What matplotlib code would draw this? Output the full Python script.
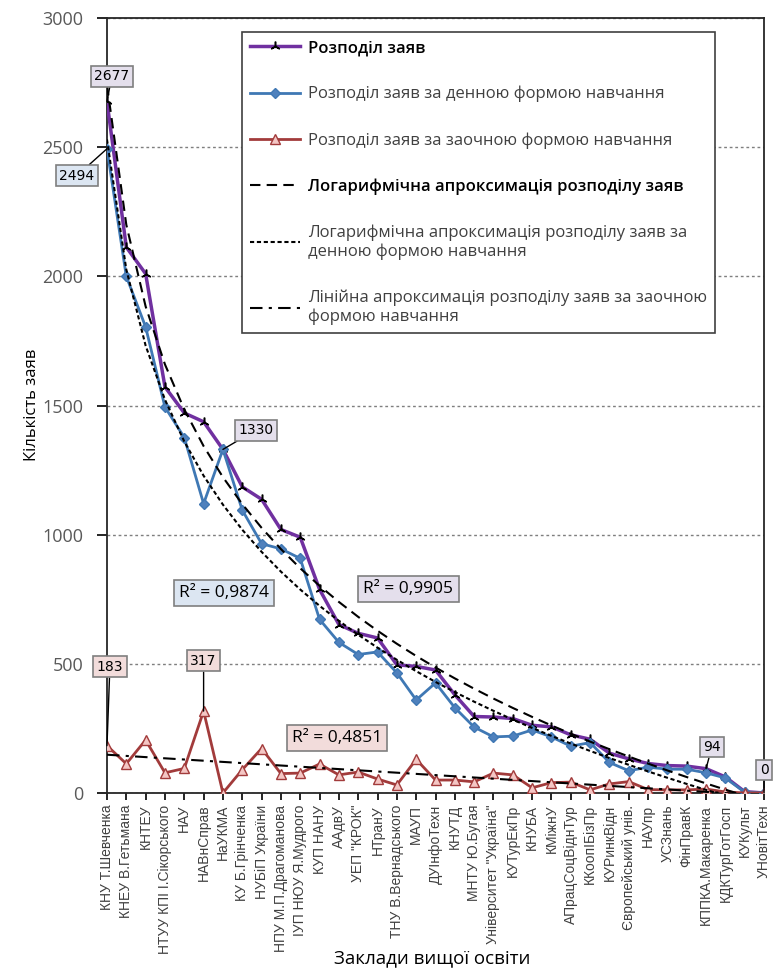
import numpy as np
import matplotlib
matplotlib.use('Agg')
import matplotlib.pyplot as plt
from matplotlib import font_manager

# Заклади вищої освіти
universities = [
    'КНУ Т.Шевченка', 'КНЕУ В.Гетьмана', 'КНТЕУ', 'НТУУ КПІ І.Сікорського', 'НАУ',
    'НАВнСправ', 'НаУКМА', 'КУ Б.Грінченка', 'НУБіП України', 'НПУ М.П.Драгоманова',
    'ІУП НЮУ Я.Мудрого', 'КУП НАНУ', 'ААдвУ', 'УЕП "КРОК"', 'НТранУ',
    'ТНУ В.Вернадського', 'МАУП', 'ДУІнфоТехн', 'КНУТД', 'МНТУ Ю.Бугая',
    'Університет "Україна"', 'КУТурЕкПр', 'КНУБА', 'КМіжнУ', 'АПрацСоцВіднТур',
    'ККоопІБізПр', 'КУРинкВідн', 'Європейський унів.', 'НАУпр', 'УСЗнань',
    'ФінПравК', 'КППКА.Макаренка', 'КДКТурГотГосп', 'КУКульт', 'УНовітТехн']

total = [2677, 2113, 2010, 1572, 1471, 1437, 1330, 1185, 1137, 1020,
         990, 788, 652, 618, 600, 496, 490, 476, 380, 296,
         294, 288, 262, 256, 225, 208, 154, 132, 114, 106,
         104, 94, 62, 5, 0]
day = [2494, 2000, 1804, 1494, 1376, 1120, 1330, 1095, 965, 945,
       908, 672, 583, 536, 546, 465, 360, 426, 330, 255,
       217, 220, 244, 217, 181, 195, 118, 86, 100, 92,
       92, 78, 58, 3, 0]
parttime = [183, 113, 205, 78, 95, 317, 0, 90, 172, 75,
            77, 112, 70, 81, 54, 31, 130, 50, 50, 43,
            77, 70, 20, 40, 42, 12, 35, 44, 13, 12,
            12, 15, 4, 0, 0]

r2_labels = ['R² = 0,9874', 'R² = 0,9905', 'R² = 0,4851']

available = {f.name for f in font_manager.fontManager.ttflist}
main_font = 'Open Sans' if 'Open Sans' in available else 'DejaVu Sans'
narrow_font = 'Liberation Sans' if 'Liberation Sans' in available else 'DejaVu Sans'
plt.rcParams['font.family'] = [main_font, 'DejaVu Sans']

x = np.arange(len(universities))
n = x + 1  # Excel-style trend index

fig = plt.figure(figsize=(7.73, 9.75), dpi=100)
ax = fig.add_axes([0.1384, 0.1867, 0.85, 0.7948])

ax.plot(x, total, color='#7030a0', lw=2.5, marker=(3, 2, 0), ms=7,
        mec='black', mew=1.1, label='Розподіл заяв', zorder=4)
ax.plot(x, day, color='#3f78b4', lw=2, marker='D', ms=5,
        mfc='#4f81bd', mec='#3f78b4', label='Розподіл заяв за денною формою навчання', zorder=4)
ax.plot(x, parttime, color='#a23b3b', lw=2, marker='^', ms=7,
        mfc='#f4c6c4', mec='#a23b3b', mew=1,
        label='Розподіл заяв за заочною формою навчання', zorder=4)

# trend lines
a, b = np.polyfit(np.log(n), total, 1)
ax.plot(x, a * np.log(n) + b, color='black', lw=1.5, ls=(0, (5, 3)),
        label='Логарифмічна апроксимація розподілу заяв', zorder=5)
a, b = np.polyfit(np.log(n), day, 1)
ax.plot(x, a * np.log(n) + b, color='black', lw=1.5, ls=(0, (2, 1.3)),
        label='Логарифмічна апроксимація розподілу заяв за\nденною формою навчання', zorder=5)
k, c = np.polyfit(n, parttime, 1)
ax.plot(x, k * n + c, color='black', lw=1.5, ls=(0, (6, 3, 1.5, 3)),
        label='Лінійна апроксимація розподілу заяв за заочною\nформою навчання', zorder=5)

ax.set_xlim(0, len(universities) - 1)
ax.set_ylim(0, 3000)
ax.set_yticks(np.arange(0, 3001, 500))
ax.set_xticks(x)
ax.set_xticklabels(universities, rotation=90, fontsize=10, family=narrow_font, color='#404040')
ax.tick_params(axis='y', labelsize=13, labelcolor='#595959', length=7, width=1.2, pad=10)
ax.tick_params(axis='x', length=5, width=1.2)
ax.grid(axis='y', ls=(0, (2, 2)), color='#7f7f7f', lw=1)
for sp in ax.spines.values():
    sp.set_color('#262626')
    sp.set_linewidth(1.3)

fig.text(0.041, 0.585, 'Кількість заяв', rotation=90, ha='center', va='center', fontsize=12)
fig.text(0.559, 0.017, 'Заклади вищої освіти', ha='center', va='center', fontsize=13.5)

leg = ax.legend(loc='upper left', bbox_to_anchor=(0.2055, 0.982), fontsize=12,
                labelspacing=1.78, handlelength=3.0, handletextpad=0.45,
                borderpad=0.5, borderaxespad=0, fancybox=False, framealpha=1,
                edgecolor='#404040')
leg.get_frame().set_linewidth(1.2)
for i, t in enumerate(leg.get_texts()):
    if i in (0, 3):
        t.set_color('black')
        t.set_fontweight('semibold')
    else:
        t.set_color('#404040')

lavender = '#e4dfec'
blue_bg = '#dce6f2'
pink_bg = '#f2dcdb'


def label_box(text, xy, xytext, fc, size=10, fam='DejaVu Sans'):
    ax.annotate(text, xy=xy, xytext=xytext, ha='center', va='center',
                fontsize=size, family=fam, annotation_clip=False, zorder=7,
                bbox=dict(boxstyle='square,pad=0.25', fc=fc, ec='#7f7f7f', lw=1.2),
                arrowprops=dict(arrowstyle='-', color='black', lw=1, shrinkA=0, shrinkB=0))


label_box(str(total[0]), (0, total[0]), (0.25, 2775), lavender)
label_box(str(day[0]), (0, day[0]), (-1.55, 2390), blue_bg)
label_box(str(total[6]), (6, total[6]), (7.7, 1405), lavender)
label_box(str(parttime[5]), (5, parttime[5]), (5.0, 511), pink_bg)
label_box(str(parttime[0]), (0, parttime[0]), (0.15, 488), pink_bg)
label_box(str(total[31]), (31, total[31]), (31.3, 178), lavender)
label_box(str(total[34]), (34, total[34]), (34.0, 89), lavender)

r2_pos = [((6.05, 774), blue_bg), ((15.6, 790), lavender), ((11.9, 213), pink_bg)]
for txt, (pos, fc) in zip(r2_labels, r2_pos):
    ax.text(pos[0], pos[1], txt, ha='center', va='center', fontsize=12.5, zorder=7,
            bbox=dict(boxstyle='square,pad=0.3', fc=fc, ec='#7f7f7f', lw=1.2))

fig.savefig('out.png', dpi=100)
